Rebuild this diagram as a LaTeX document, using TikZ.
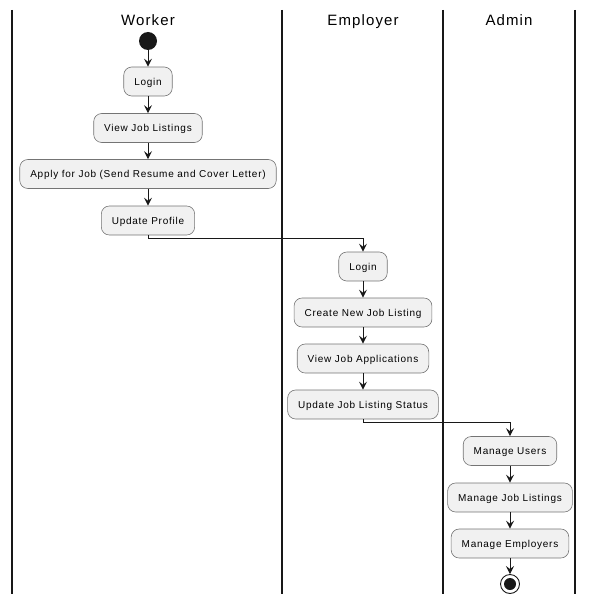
\documentclass[tikz,border=0pt]{standalone}
\usepackage{fontspec}
\setmainfont{Liberation Sans}[LetterSpace=7.5]
\usetikzlibrary{arrows.meta}
\definecolor{boxfill}{HTML}{F1F1F1}
\definecolor{ink}{HTML}{181818}

\begin{document}
\begin{tikzpicture}[x=1pt,y=-1pt,
		act/.style={rectangle, rounded corners=8pt, draw=ink!60, line width=0.6pt, fill=boxfill,
			minimum height=29pt, inner xsep=10.5pt, text height=7.2pt, text depth=0pt,
			font=\fontsize{10}{12}\selectfont},
		lane/.style={line width=1.3pt, ink},
		title/.style={anchor=base, font=\fontsize{15}{18}\selectfont},
		flow/.style={draw=ink, line width=0.9pt, -{Stealth[length=8pt,width=8pt,inset=3pt]}}]
	\useasboundingbox (0,0) rectangle (592,604);

	% swimlanes
	\foreach \x in {12,282,443,575}
		\draw[lane] (\x,10) -- (\x,594);
	\node[title] (tw) at (148,25.5) {Worker};
	\node[title] (te) at (363,25.5) {Employer};
	\node[title] (ta) at (509,25.5) {Admin};

	% worker
	\node[circle, fill=ink, minimum size=18pt, inner sep=0pt] (start) at (148,41) {};
	\node[act] (wlogin) at (148,81.5) {Login};
	\node[act] (wview) at (148,128) {View Job Listings};
	\node[act] (wapply) at (148,174) {Apply for Job (Send Resume and Cover Letter)};
	\node[act] (wprof) at (148,220.5) {Update Profile};

	% employer
	\node[act] (elogin) at (363,266.5) {Login};
	\node[act] (ecreate) at (363,312.5) {Create New Job Listing};
	\node[act] (eview) at (363,358.5) {View Job Applications};
	\node[act] (estat) at (363,404.5) {Update Job Listing Status};

	% admin
	\node[act] (ausers) at (510,451) {Manage Users};
	\node[act] (ajobs) at (510,497.5) {Manage Job Listings};
	\node[act] (aemp) at (510,543.5) {Manage Employers};
	\node[circle, draw=ink, line width=0.9pt, minimum size=19pt, inner sep=0pt] (stop) at (510,584) {};
	\fill[ink] (stop) circle (6pt);

	\draw[flow] (start) -- (wlogin);
	\draw[flow] (wlogin) -- (wview);
	\draw[flow] (wview) -- (wapply);
	\draw[flow] (wapply) -- (wprof);
	\draw[flow] (wprof.south) -- ++(0,3.5) -| (elogin.north);
	\draw[flow] (elogin) -- (ecreate);
	\draw[flow] (ecreate) -- (eview);
	\draw[flow] (eview) -- (estat);
	\draw[flow] (estat.south) -- ++(0,3.5) -| (ausers.north);
	\draw[flow] (ausers) -- (ajobs);
	\draw[flow] (ajobs) -- (aemp);
	\draw[flow] (aemp) -- (stop);
\end{tikzpicture}
\end{document}
